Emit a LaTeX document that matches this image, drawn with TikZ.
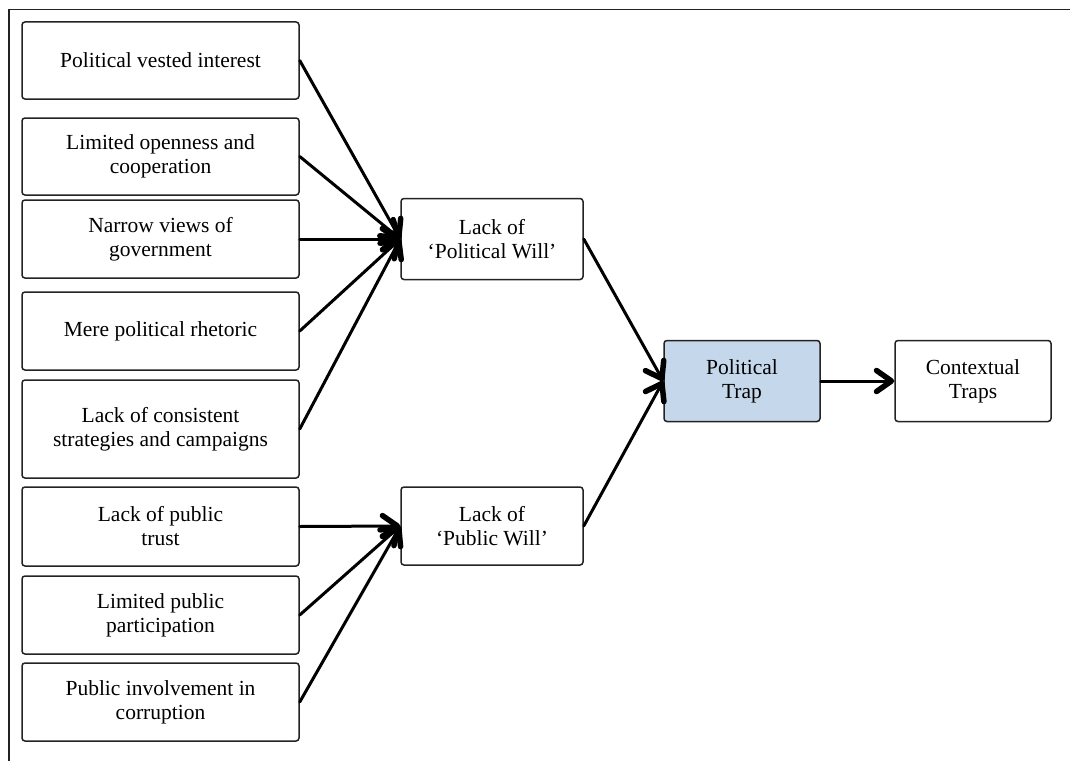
\documentclass[tikz,border=0pt]{standalone}
\usepackage{fontspec}
\setmainfont{Liberation Serif}
\usetikzlibrary{arrows.meta}
\definecolor{trapblue}{RGB}{197,215,235}
\definecolor{edgegray}{RGB}{35,35,35}
\begin{document}
\begin{tikzpicture}[x=1pt,y=-1pt,
  box/.style={draw=edgegray,line width=1.5pt,rounded corners=3pt,fill=white,
    inner sep=0pt,align=center,font=\fontsize{21.5}{24}\selectfont},
  leftbox/.style={box,minimum width=277pt},
  midbox/.style={box,minimum width=182pt,minimum height=81pt},
  trapbox/.style={box,minimum width=156pt,minimum height=81pt},
  link/.style={line width=3pt,line cap=round,
    -{Straight Barb[length=15pt,width=21pt,line width=5.5pt,round]}}]
\useasboundingbox (0,0) rectangle (1070,760);
% frame
\draw[edgegray,line width=1.8pt] (9,770) -- (9,9.5) -- (1080,9.5);
% causes
\node[leftbox,minimum height=77pt] (a1) at (160.5,60.5) {Political vested interest};
\node[leftbox,minimum height=77pt] (a2) at (160.5,156.5) {Limited openness and\\cooperation};
\node[leftbox,minimum height=78pt] (a3) at (160.5,239) {Narrow views of\\government};
\node[leftbox,minimum height=78pt] (a4) at (160.5,331) {Mere political rhetoric};
\node[leftbox,minimum height=98pt] (a5) at (160.5,429) {Lack of consistent\\strategies and campaigns};
\node[leftbox,minimum height=79pt] (b1) at (160.5,526.5) {Lack of public\\trust};
\node[leftbox,minimum height=78pt] (b2) at (160.5,615) {Limited public\\participation};
\node[leftbox,minimum height=78pt] (b3) at (160.5,702) {Public involvement in\\corruption};
% intermediate
\node[midbox] (pw) at (492,239) {Lack of\\`Political Will'};
\node[midbox,minimum height=78pt] (uw) at (492,526) {Lack of\\`Public Will'};
% traps
\node[trapbox,fill=trapblue] (pt) at (742,381) {Political\\Trap};
\node[trapbox] (ct) at (973,381) {Contextual\\Traps};
% connectors
\foreach \s in {a1,a2,a3,a4,a5}
  \draw[link] (\s.east) -- (pw.west);
\foreach \s in {b1,b2,b3}
  \draw[link] (\s.east) -- (uw.west);
\draw[link] (pw.east) -- (pt.west);
\draw[link] (uw.east) -- (pt.west);
\draw[link] (pt.east) -- (ct.west);
\end{tikzpicture}
\end{document}
